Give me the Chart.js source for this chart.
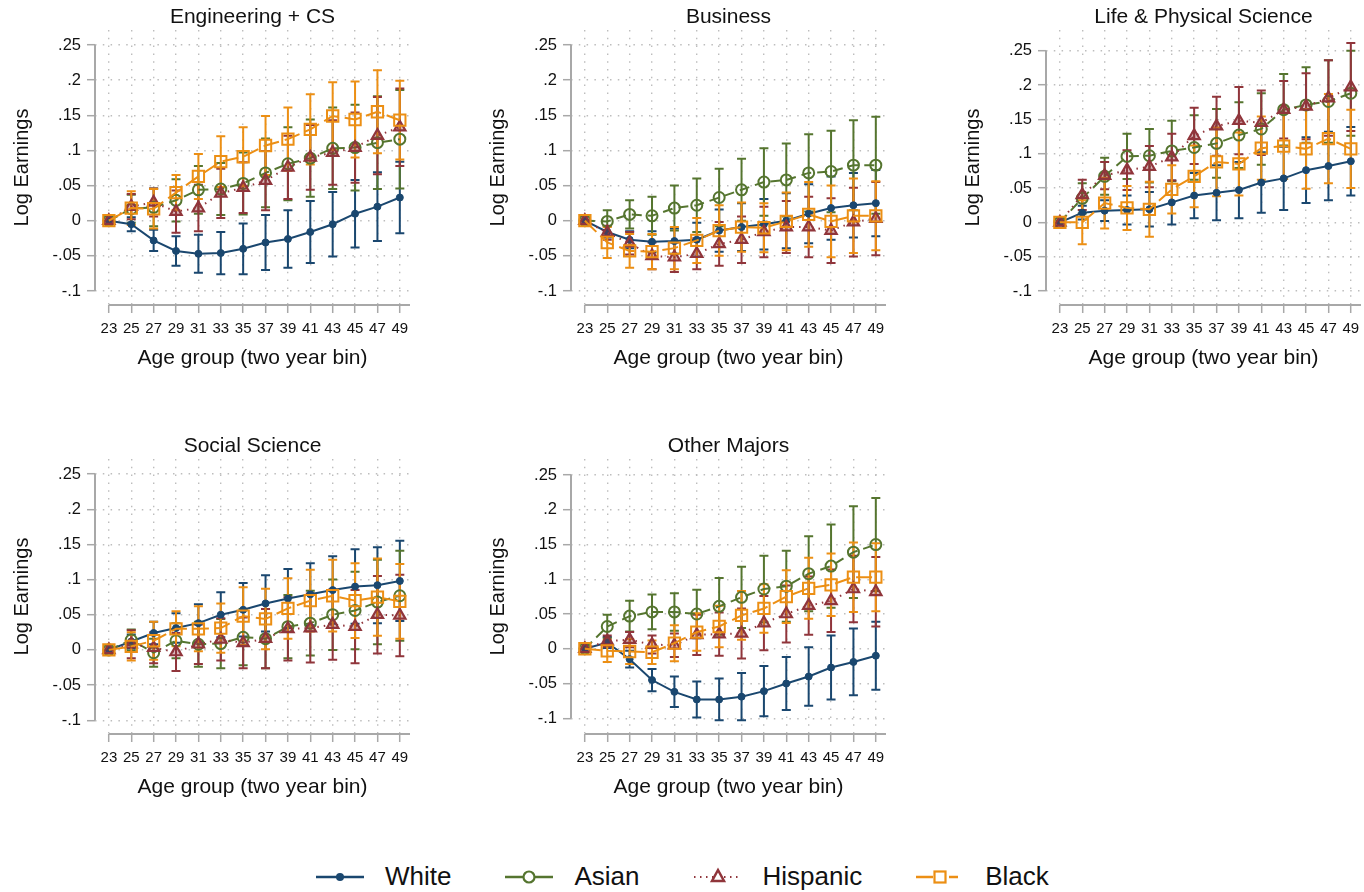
<!DOCTYPE html>
<html lang="en">
<head>
<meta charset="UTF-8">
<title>Log Earnings by Age Group and Major</title>
<style>
    body {
        margin: 0;
        width: 1364px;
        height: 892px;
        overflow: hidden;
        position: relative;
        background: #fff;
        font-family: 'Liberation Sans', Arial, Helvetica, sans-serif;
    }
    .panel {
        position: absolute;
    }
    .legend {
        position: absolute;
        left: 316px;
        top: 861px;
        display: flex;
        align-items: center;
        gap: 54px;
        font-size: 26px;
        color: #111;
    }
    .legend-item {
        display: flex;
        align-items: center;
        gap: 21px;
    }
    .legend-item svg { display: block; }
</style>
<script src="https://cdn.jsdelivr.net/npm/chart.js"></script>
</head>
<body>
<canvas id="eng" class="panel" width="420" height="380" style="left:0;top:0"></canvas>
<canvas id="bus" class="panel" width="420" height="380" style="left:476px;top:0"></canvas>
<canvas id="life" class="panel" width="420" height="380" style="left:951px;top:0"></canvas>
<canvas id="soc" class="panel" width="420" height="380" style="left:0;top:429px"></canvas>
<canvas id="oth" class="panel" width="420" height="380" style="left:476px;top:429px"></canvas>

<div class="legend">
    <div class="legend-item">
        <svg width="48" height="20"><line x1="0" y1="10" x2="48" y2="10" stroke="#1a476f" stroke-width="2.5"/><circle cx="24" cy="10" r="4" fill="#1a476f"/></svg>
        <span>White</span>
    </div>
    <div class="legend-item">
        <svg width="48" height="20"><line x1="0" y1="10" x2="18" y2="10" stroke="#55752f" stroke-width="2.5"/><line x1="30" y1="10" x2="48" y2="10" stroke="#55752f" stroke-width="2.5"/><circle cx="24" cy="10" r="5.5" fill="#fff" stroke="#55752f" stroke-width="2.2"/></svg>
        <span>Asian</span>
    </div>
    <div class="legend-item">
        <svg width="48" height="20"><line x1="0" y1="10" x2="48" y2="10" stroke="#90353b" stroke-width="2" stroke-dasharray="1.5 4.5"/><polygon points="24,3 30,14 18,14" fill="#fff" stroke="#90353b" stroke-width="2.5"/></svg>
        <span>Hispanic</span>
    </div>
    <div class="legend-item">
        <svg width="48" height="20"><line x1="0" y1="10" x2="17" y2="10" stroke="#ec8f14" stroke-width="2.5"/><line x1="33" y1="10" x2="42" y2="10" stroke="#ec8f14" stroke-width="2.5"/><rect x="18.5" y="4.5" width="11" height="11" fill="#fff" stroke="#ec8f14" stroke-width="2.2"/></svg>
        <span>Black</span>
    </div>
</div>

<script>
    // Age bins (x axis) and y axis ticks
    const ages = [23, 25, 27, 29, 31, 33, 35, 37, 39, 41, 43, 45, 47, 49];
    const ageLabels = ['23', '25', '27', '29', '31', '33', '35', '37', '39', '41', '43', '45', '47', '49'];
    const yTickValues = [-0.1, -0.05, 0, 0.05, 0.1, 0.15, 0.2, 0.25];
    const yTickLabels = ['-.1', '-.05', '0', '.05', '.1', '.15', '.2', '.25'];

    // Engineering + CS (estimate, CI half width)
    const engWhite = [0, -0.005, -0.028, -0.043, -0.047, -0.046, -0.040, -0.031, -0.026, -0.016, -0.005, 0.010, 0.020, 0.033];
    const engWhiteCI = [0, 0.010, 0.015, 0.021, 0.027, 0.030, 0.036, 0.039, 0.041, 0.044, 0.046, 0.048, 0.049, 0.051];
    const engAsian = [0, 0.017, 0.019, 0.029, 0.044, 0.045, 0.053, 0.068, 0.081, 0.089, 0.103, 0.104, 0.111, 0.116];
    const engAsianCI = [0, 0.020, 0.027, 0.030, 0.034, 0.037, 0.044, 0.049, 0.052, 0.055, 0.058, 0.061, 0.066, 0.070];
    const engHisp = [0, 0.020, 0.026, 0.013, 0.018, 0.039, 0.047, 0.057, 0.076, 0.090, 0.097, 0.104, 0.121, 0.133];
    const engHispCI = [0, 0.018, 0.020, 0.030, 0.033, 0.035, 0.036, 0.042, 0.045, 0.046, 0.046, 0.050, 0.055, 0.055];
    const engBlack = [0, 0.018, 0.017, 0.040, 0.063, 0.084, 0.091, 0.107, 0.116, 0.130, 0.149, 0.144, 0.155, 0.143];
    const engBlackCI = [0, 0.024, 0.028, 0.025, 0.032, 0.036, 0.042, 0.042, 0.045, 0.050, 0.048, 0.054, 0.059, 0.056];

    // Business
    const busWhite = [0, -0.016, -0.027, -0.030, -0.029, -0.027, -0.014, -0.009, -0.005, 0, 0.010, 0.018, 0.022, 0.025];
    const busWhiteCI = [0, 0.008, 0.012, 0.015, 0.018, 0.024, 0.030, 0.034, 0.036, 0.039, 0.042, 0.045, 0.046, 0.047];
    const busAsian = [0, -0.001, 0.009, 0.007, 0.018, 0.022, 0.033, 0.044, 0.055, 0.058, 0.068, 0.070, 0.079, 0.079];
    const busAsianCI = [0, 0.016, 0.020, 0.027, 0.032, 0.038, 0.041, 0.044, 0.048, 0.052, 0.055, 0.058, 0.064, 0.069];
    const busHisp = [0, -0.017, -0.032, -0.050, -0.052, -0.047, -0.033, -0.027, -0.016, -0.009, -0.009, -0.014, -0.002, 0.003];
    const busHispCI = [0, 0.010, 0.016, 0.019, 0.021, 0.022, 0.031, 0.033, 0.036, 0.037, 0.043, 0.046, 0.049, 0.052];
    const busBlack = [0, -0.031, -0.043, -0.044, -0.039, -0.028, -0.014, -0.009, -0.010, -0.001, 0.009, -0.001, 0.007, 0.007];
    const busBlackCI = [0, 0.022, 0.024, 0.025, 0.030, 0.032, 0.036, 0.035, 0.035, 0.041, 0.046, 0.051, 0.053, 0.049];

    // Life & Physical Science
    const lifeWhite = [0, 0.014, 0.017, 0.018, 0.019, 0.029, 0.039, 0.043, 0.047, 0.058, 0.064, 0.076, 0.082, 0.089];
    const lifeWhiteCI = [0, 0.010, 0.015, 0.021, 0.025, 0.032, 0.033, 0.040, 0.041, 0.044, 0.046, 0.048, 0.050, 0.050];
    const lifeAsian = [0, 0.035, 0.067, 0.096, 0.097, 0.104, 0.109, 0.115, 0.127, 0.136, 0.164, 0.171, 0.176, 0.188];
    const lifeAsianCI = [0, 0.022, 0.027, 0.033, 0.039, 0.044, 0.047, 0.050, 0.048, 0.052, 0.052, 0.055, 0.060, 0.062];
    const lifeHisp = [0, 0.040, 0.068, 0.076, 0.081, 0.095, 0.126, 0.140, 0.148, 0.145, 0.164, 0.169, 0.181, 0.197];
    const lifeHispCI = [0, 0.022, 0.020, 0.029, 0.030, 0.034, 0.041, 0.043, 0.049, 0.047, 0.042, 0.048, 0.055, 0.064];
    const lifeBlack = [0, 0, 0.028, 0.021, 0.019, 0.048, 0.067, 0.088, 0.085, 0.108, 0.111, 0.107, 0.122, 0.107];
    const lifeBlackCI = [0, 0.032, 0.037, 0.032, 0.040, 0.035, 0.045, 0.050, 0.046, 0.046, 0.048, 0.058, 0.065, 0.057];

    // Social Science
    const socWhite = [0, 0.012, 0.024, 0.031, 0.038, 0.050, 0.057, 0.066, 0.073, 0.079, 0.085, 0.090, 0.092, 0.098];
    const socWhiteCI = [0, 0.010, 0.016, 0.021, 0.027, 0.032, 0.038, 0.040, 0.042, 0.044, 0.048, 0.053, 0.054, 0.057];
    const socAsian = [0, 0.014, -0.004, 0.013, 0.008, 0.009, 0.018, 0.016, 0.033, 0.038, 0.050, 0.056, 0.068, 0.077];
    const socAsianCI = [0, 0.015, 0.020, 0.025, 0.032, 0.035, 0.040, 0.042, 0.045, 0.046, 0.050, 0.055, 0.060, 0.064];
    const socHisp = [0, 0.008, 0.003, -0.003, 0.008, 0.015, 0.010, 0.016, 0.030, 0.031, 0.036, 0.033, 0.050, 0.049];
    const socHispCI = [0, 0.020, 0.022, 0.027, 0.028, 0.030, 0.036, 0.042, 0.045, 0.049, 0.050, 0.052, 0.055, 0.058];
    const socBlack = [0, 0.005, 0.013, 0.030, 0.030, 0.031, 0.048, 0.044, 0.059, 0.070, 0.077, 0.070, 0.075, 0.069];
    const socBlackCI = [0, 0.020, 0.027, 0.025, 0.032, 0.035, 0.041, 0.043, 0.043, 0.044, 0.051, 0.053, 0.055, 0.053];

    // Other Majors
    const othWhite = [0, 0.009, -0.015, -0.045, -0.062, -0.073, -0.073, -0.069, -0.061, -0.050, -0.040, -0.027, -0.019, -0.010];
    const othWhiteCI = [0, 0.008, 0.012, 0.016, 0.022, 0.026, 0.030, 0.034, 0.036, 0.038, 0.042, 0.046, 0.048, 0.049];
    const othAsian = [0, 0.032, 0.047, 0.053, 0.053, 0.050, 0.061, 0.074, 0.086, 0.090, 0.108, 0.119, 0.139, 0.150];
    const othAsianCI = [0, 0.017, 0.022, 0.025, 0.027, 0.035, 0.041, 0.044, 0.048, 0.051, 0.054, 0.060, 0.066, 0.067];
    const othHisp = [0, 0.011, 0.013, 0.006, 0.005, 0.020, 0.021, 0.022, 0.037, 0.050, 0.062, 0.069, 0.086, 0.082];
    const othHispCI = [0, 0.008, 0.011, 0.013, 0.017, 0.029, 0.031, 0.036, 0.039, 0.041, 0.042, 0.045, 0.048, 0.050];
    const othBlack = [0, -0.003, -0.004, -0.005, 0.008, 0.024, 0.032, 0.048, 0.058, 0.075, 0.087, 0.092, 0.103, 0.103];
    const othBlackCI = [0, 0.016, 0.018, 0.017, 0.026, 0.027, 0.030, 0.035, 0.035, 0.038, 0.044, 0.045, 0.050, 0.049];

    const navy = '#1a476f';
    const green = '#55752f';
    const maroon = '#90353b';
    const orange = '#ec8f14';
    const axisGray = '#a8a8a8';
    const gridGray = '#bdbdbd';

    Chart.defaults.font.family = "'Liberation Sans', Arial, Helvetica, sans-serif";
    Chart.defaults.color = '#111';

    // vertical CI bars with caps, drawn behind the lines
    const errorBars = {
        id: 'errorBars',
        beforeDatasetsDraw(chart) {
            const ctx = chart.ctx;
            const y = chart.scales.y;
            chart.data.datasets.forEach((ds, i) => {
                const meta = chart.getDatasetMeta(i);
                ctx.save();
                ctx.strokeStyle = ds.borderColor;
                ctx.lineWidth = 2;
                meta.data.forEach((pt, j) => {
                    const hw = ds.ci[j];
                    if (!hw) return;
                    const v = ds.data[j].y;
                    const top = y.getPixelForValue(v + hw);
                    const bot = y.getPixelForValue(v - hw);
                    ctx.beginPath();
                    ctx.moveTo(pt.x, top);
                    ctx.lineTo(pt.x, bot);
                    ctx.moveTo(pt.x - 4.5, top);
                    ctx.lineTo(pt.x + 4.5, top);
                    ctx.moveTo(pt.x - 4.5, bot);
                    ctx.lineTo(pt.x + 4.5, bot);
                    ctx.stroke();
                });
                ctx.restore();
            });
        }
    };

    // Stata-like axis lines that only span the tick range
    const axisLines = {
        id: 'axisLines',
        beforeDatasetsDraw(chart) {
            const {ctx, chartArea, scales: {x, y}} = chart;
            ctx.save();
            ctx.strokeStyle = axisGray;
            ctx.lineWidth = 2;
            ctx.beginPath();
            ctx.moveTo(chartArea.left, y.getPixelForValue(yTickValues[0]));
            ctx.lineTo(chartArea.left, y.getPixelForValue(yTickValues[yTickValues.length - 1]));
            ctx.moveTo(x.getPixelForValue(ages[0]), chartArea.bottom);
            ctx.lineTo(chartArea.right, chartArea.bottom);
            ctx.stroke();
            ctx.restore();
        }
    };

    function toPoints(vals) {
        return ages.map((a, i) => ({x: a, y: vals[i]}));
    }

    const gridOpts = {
        color: gridGray,
        lineWidth: 1.4,
        drawTicks: true,
        tickLength: 8,
        tickColor: axisGray,
        tickWidth: 1.5,
        tickBorderDash: []
    };

    function makePanel(id, title, white, whiteCI, asian, asianCI, hisp, hispCI, black, blackCI, yMin, yMax) {
        const ctx = document.getElementById(id).getContext('2d');
        return new Chart(ctx, {
            type: 'line',
            data: {
                datasets: [
                    {
                        label: 'White', data: toPoints(white), ci: whiteCI,
                        borderColor: navy, borderWidth: 2,
                        pointStyle: 'circle', pointRadius: 3.5,
                        pointBackgroundColor: navy, pointBorderColor: navy, pointBorderWidth: 1,
                        order: 4
                    },
                    {
                        label: 'Asian', data: toPoints(asian), ci: asianCI,
                        borderColor: green, borderWidth: 2, borderDash: [10, 6],
                        pointStyle: 'circle', pointRadius: 5.5,
                        pointBackgroundColor: 'rgba(255,255,255,0)', pointBorderColor: green, pointBorderWidth: 2,
                        order: 3
                    },
                    {
                        label: 'Hispanic', data: toPoints(hisp), ci: hispCI,
                        borderColor: maroon, borderWidth: 2, borderDash: [1.5, 5],
                        pointStyle: 'triangle', pointRadius: 6.5,
                        pointBackgroundColor: 'rgba(144,53,59,0.35)', pointBorderColor: maroon, pointBorderWidth: 2.2,
                        order: 2
                    },
                    {
                        label: 'Black', data: toPoints(black), ci: blackCI,
                        borderColor: orange, borderWidth: 2, borderDash: [16, 6],
                        pointStyle: 'rect', pointRadius: 8,
                        pointBackgroundColor: 'rgba(255,255,255,0)', pointBorderColor: orange, pointBorderWidth: 2,
                        order: 1
                    }
                ]
            },
            options: {
                responsive: false,
                animation: false,
                events: [],
                layout: {padding: {left: 0, right: 7, top: 0, bottom: 0}},
                elements: {line: {tension: 0, fill: false}},
                plugins: {
                    legend: {display: false},
                    tooltip: {enabled: false},
                    title: {
                        display: true,
                        text: title,
                        fullSize: false,
                        color: '#111',
                        font: {size: 21, weight: 'normal', lineHeight: 1},
                        padding: {top: 6.5, bottom: 2.5}
                    }
                },
                scales: {
                    x: {
                        type: 'linear',
                        min: 21.76,
                        max: 49.91,
                        afterBuildTicks: scale => { scale.ticks = ages.map(v => ({value: v})); },
                        afterFit: scale => { scale.height = 75; },
                        border: {display: false, dash: [1.5, 6.3]},
                        grid: gridOpts,
                        ticks: {
                            autoSkip: false,
                            maxRotation: 0,
                            padding: 7,
                            color: '#111',
                            font: {size: 15},
                            callback: (v, i) => ageLabels[i]
                        },
                        title: {
                            display: true,
                            text: 'Age group (two year bin)',
                            color: '#111',
                            font: {size: 21},
                            padding: {top: 0, bottom: 9.4}
                        }
                    },
                    y: {
                        min: yMin,
                        max: yMax,
                        afterBuildTicks: scale => { scale.ticks = yTickValues.map(v => ({value: v})); },
                        afterFit: scale => { scale.width = 95; },
                        border: {display: false, dash: [1.5, 6.3]},
                        grid: gridOpts,
                        ticks: {
                            padding: 6,
                            color: '#111',
                            font: {size: 16.5},
                            callback: (v, i) => yTickLabels[i]
                        },
                        title: {
                            display: true,
                            text: 'Log Earnings',
                            color: '#111',
                            font: {size: 20},
                            padding: {top: 10.5, bottom: 0}
                        }
                    }
                }
            },
            plugins: [axisLines, errorBars]
        });
    }

    makePanel('eng', 'Engineering + CS', engWhite, engWhiteCI, engAsian, engAsianCI, engHisp, engHispCI, engBlack, engBlackCI, -0.1199, 0.2713);
    makePanel('bus', 'Business', busWhite, busWhiteCI, busAsian, busAsianCI, busHisp, busHispCI, busBlack, busBlackCI, -0.1199, 0.2713);
    makePanel('life', 'Life & Physical Science', lifeWhite, lifeWhiteCI, lifeAsian, lifeAsianCI, lifeHisp, lifeHispCI, lifeBlack, lifeBlackCI, -0.1204, 0.2801);
    makePanel('soc', 'Social Science', socWhite, socWhiteCI, socAsian, socAsianCI, socHisp, socHispCI, socBlack, socBlackCI, -0.1196, 0.2714);
    makePanel('oth', 'Other Majors', othWhite, othWhiteCI, othAsian, othAsianCI, othHisp, othHispCI, othBlack, othBlackCI, -0.1227, 0.2731);
</script>
</body>
</html>
